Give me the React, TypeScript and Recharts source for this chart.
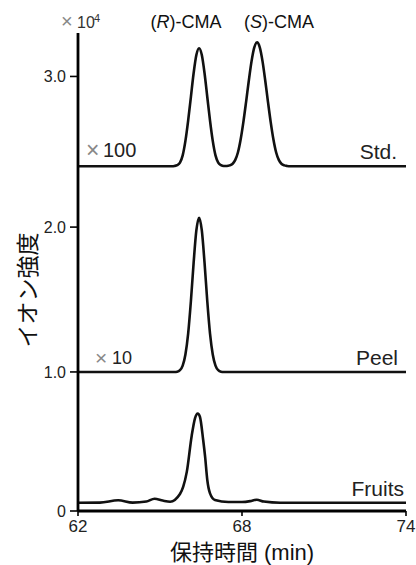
import React from 'react';
import { LineChart, Line, XAxis, YAxis } from 'recharts';

// retention time axis (min)
const xTicks = [62, 68, 74];
const yTicks = [0, 0.96, 1.96, 3.0];
const yTickLabels = ['0', '1.0', '2.0', '3.0'];

// Std. trace (x100)
const stdTimes = [
  62.0, 64.0, 65.43, 65.53, 65.63, 65.73, 65.83, 65.93, 66.03, 66.13, 66.23, 66.33, 66.43,
  66.53, 66.63, 66.73, 66.83, 66.93, 67.03, 67.13, 67.23, 67.33, 67.45, 67.55, 67.65, 67.75,
  67.85, 67.95, 68.05, 68.15, 68.25, 68.35, 68.45, 68.55, 68.65, 68.75, 68.85, 68.95, 69.05,
  69.15, 69.25, 69.35, 69.45, 69.55, 69.65, 69.75, 71.0, 74.0,
];
const stdValues = [
  2.38, 2.38, 2.38, 2.382, 2.388, 2.405, 2.455, 2.555, 2.695, 2.858, 3.022, 3.148, 3.195,
  3.148, 3.022, 2.858, 2.695, 2.555, 2.455, 2.405, 2.388, 2.382, 2.382, 2.386, 2.396, 2.422,
  2.475, 2.565, 2.685, 2.825, 2.972, 3.106, 3.201, 3.235, 3.201, 3.106, 2.972, 2.825, 2.685,
  2.565, 2.475, 2.422, 2.396, 2.386, 2.382, 2.38, 2.38, 2.38,
];

// Peel trace (x10)
const peelTimes = [
  62.0, 64.0, 65.53, 65.63, 65.73, 65.83, 65.93, 66.03, 66.13, 66.23, 66.33, 66.43, 66.53,
  66.63, 66.73, 66.83, 66.93, 67.03, 67.13, 67.23, 67.33, 69.0, 74.0,
];
const peelValues = [
  0.96, 0.96, 0.96, 0.962, 0.972, 1.004, 1.081, 1.225, 1.448, 1.713, 1.937, 2.025, 1.937,
  1.713, 1.448, 1.225, 1.081, 1.004, 0.972, 0.962, 0.96, 0.96, 0.96,
];

// Fruits trace
const fruitTimes = [
  62.0, 62.8, 63.47, 64.0, 64.5, 64.8, 65.1, 65.37, 65.73, 65.85, 65.98, 66.16, 66.28, 66.38,
  66.46, 66.58, 66.65, 66.73, 66.83, 67.01, 67.5, 68.0, 68.3, 68.54, 68.8, 69.4, 71.0, 74.0,
];
const fruitValues = [
  0.057, 0.058, 0.074, 0.058, 0.065, 0.085, 0.072, 0.064, 0.117, 0.168, 0.27, 0.52, 0.64,
  0.672, 0.651, 0.49, 0.375, 0.214, 0.122, 0.076, 0.062, 0.062, 0.068, 0.078, 0.065, 0.057,
  0.057, 0.057,
];

const zip = (ts: number[], vs: number[]) => ts.map((t, i) => ({ t, v: vs[i] }));

const latin = "'Liberation Sans', Arial, 'Noto Sans CJK JP', sans-serif";
const jp = "'Noto Sans CJK JP', 'Liberation Sans', sans-serif";

const traceProps = {
  type: 'monotone' as const,
  dataKey: 'v',
  stroke: '#111',
  strokeWidth: 2.6,
  dot: false,
  activeDot: false,
  isAnimationActive: false,
};

export default function App() {
  return (
    <div style={{ position: 'absolute', left: 0, top: 0, width: 416, height: 565, background: '#fff' }}>
      <LineChart width={416} height={565} margin={{ top: 33, right: 10, bottom: 0, left: 0 }}>
        <XAxis
          dataKey="t"
          type="number"
          domain={[62, 74]}
          ticks={xTicks}
          interval={0}
          allowDataOverflow
          height={54}
          tickSize={5}
          tickMargin={4}
          axisLine={{ stroke: '#000', strokeWidth: 2.8 }}
          tickLine={{ stroke: '#000', strokeWidth: 1.6 }}
          tick={{ fill: '#222', fontSize: 17, fontFamily: latin }}
        />
        <YAxis
          type="number"
          domain={[0, 3.3]}
          ticks={yTicks}
          interval={0}
          allowDataOverflow
          width={78}
          tickSize={8}
          tickMargin={4}
          tickFormatter={(v: number) => yTickLabels[yTicks.indexOf(v)] ?? ''}
          axisLine={{ stroke: '#000', strokeWidth: 2.8 }}
          tickLine={{ stroke: '#000', strokeWidth: 1.6 }}
          tick={{ fill: '#222', fontSize: 16, fontFamily: latin }}
        />
        <Line {...traceProps} data={zip(stdTimes, stdValues)} />
        <Line {...traceProps} data={zip(peelTimes, peelValues)} />
        <Line {...traceProps} data={zip(fruitTimes, fruitValues)} />
      </LineChart>
      <svg
        width={416}
        height={565}
        style={{ position: 'absolute', left: 0, top: 0, pointerEvents: 'none' }}
      >
        <g fontFamily={latin}>
          <text x={61} y={28} fontSize={20} fill="#888">×</text>
          <text x={77} y={28} fontSize={16} fill="#333">10</text>
          <text x={94} y={22} fontSize={11} fill="#333">4</text>
          <text x={186} y={28} fontSize={18} fill="#111" textAnchor="middle">
            (<tspan fontStyle="italic">R</tspan>)-CMA
          </text>
          <text x={279} y={28} fontSize={18} fill="#111" textAnchor="middle">
            (<tspan fontStyle="italic">S</tspan>)-CMA
          </text>
          <text x={86} y={158} fontSize={23} fill="#888">×</text>
          <text x={103} y={157} fontSize={20} fill="#222">100</text>
          <text x={397} y={159} fontSize={21} fill="#222" textAnchor="end">Std.</text>
          <text x={95} y={365} fontSize={21} fill="#888">×</text>
          <text x={112} y={364} fontSize={18} fill="#222">10</text>
          <text x={398} y={365} fontSize={21} fill="#222" textAnchor="end">Peel</text>
          <text x={404} y={496} fontSize={21} fill="#222" textAnchor="end">Fruits</text>
          <text x={242} y={560} fontSize={22} fill="#111" textAnchor="middle">
            保持時間 (min)
          </text>
        </g>
        <text
          x={26}
          y={290}
          fontSize={23}
          fontFamily={jp}
          fill="#111"
          textAnchor="middle"
          dominantBaseline="central"
          transform="rotate(-90 26 290)"
        >
          イオン強度
        </text>
      </svg>
    </div>
  );
}
